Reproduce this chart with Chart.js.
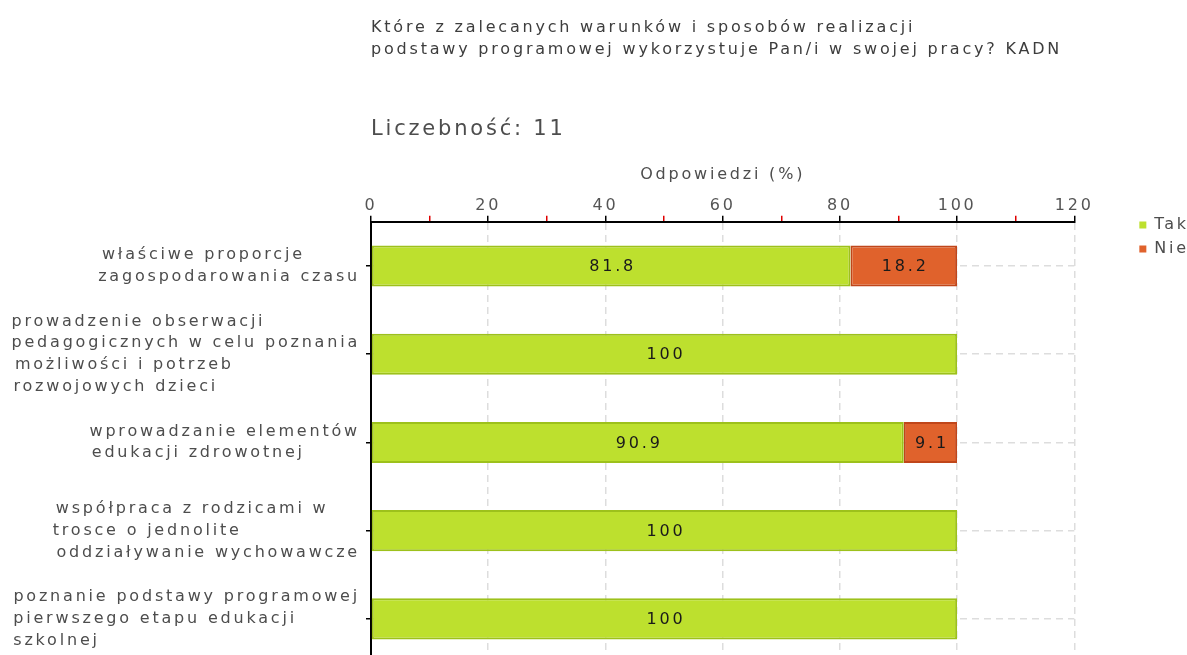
<!DOCTYPE html>
<html>
<head>
<meta charset="utf-8">
<script src="https://cdn.jsdelivr.net/npm/chart.js@4/dist/chart.umd.min.js"></script>
<style>
  body { margin: 0; background: #fff; overflow: hidden; }
</style>
</head>
<body>
<canvas id="chart" width="1187" height="664"></canvas>
<script>
const titleLines = [
  'Które z zalecanych warunków i sposobów realizacji',
  'podstawy programowej wykorzystuje Pan/i w swojej pracy? KADN'
];
const countText = 'Liczebność: 11';
const axisTitle = 'Odpowiedzi (%)';

const categories = [
  ['właściwe proporcje', 'zagospodarowania czasu'],
  ['prowadzenie obserwacji', 'pedagogicznych w celu poznania', 'możliwości i potrzeb', 'rozwojowych dzieci'],
  ['wprowadzanie elementów', 'edukacji zdrowotnej'],
  ['współpraca z rodzicami w', 'trosce o jednolite', 'oddziaływanie wychowawcze'],
  ['poznanie podstawy programowej', 'pierwszego etapu edukacji', 'szkolnej']
];
const seriesNames = ['Tak', 'Nie'];
const takValues = [81.8, 100, 90.9, 100, 100];
const nieValues = [18.2, 0, 9.1, 0, 0];
const xTicks = [0, 20, 40, 60, 80, 100, 120];

const FONT = "'DejaVu Sans', sans-serif";
const SPACING = '2.8px';

Chart.defaults.font.family = FONT;
Chart.defaults.font.size = 16;
Chart.defaults.color = '#4d4d4d';

// the original text is widely spaced, canvas letterSpacing gets close
const spacing = {
  id: 'spacing',
  beforeUpdate(chart) { chart.ctx.letterSpacing = SPACING; },
  beforeDraw(chart) { chart.ctx.letterSpacing = SPACING; }
};

// lines of a label are left aligned, the block sits against the axis
const measure = document.createElement('canvas').getContext('2d');
measure.font = '16px ' + FONT;
measure.letterSpacing = SPACING;
const padded = categories.map(lines => {
  const w = lines.map(l => measure.measureText(l).width);
  const max = Math.max(...w);
  const sp = measure.measureText(' ').width;
  return lines.map((l, i) => l + ' '.repeat(Math.round((max - w[i]) / sp)));
});

const valueLabels = {
  id: 'valueLabels',
  afterDatasetsDraw(chart) {
    const ctx = chart.ctx;
    ctx.save();
    ctx.font = '16px ' + FONT;
    ctx.fillStyle = '#1a1a1a';
    ctx.textAlign = 'center';
    ctx.textBaseline = 'middle';
    chart.data.datasets.forEach((ds, i) => {
      chart.getDatasetMeta(i).data.forEach((bar, j) => {
        const v = ds.data[j];
        if (!v) return;
        ctx.fillText(String(v), (bar.x + bar.base) / 2 + 1.5, bar.y + 1);
      });
    });
    ctx.restore();
  }
};

new Chart(document.getElementById('chart'), {
  type: 'bar',
  data: {
    labels: categories,
    datasets: [
      {
        label: seriesNames[0],
        data: takValues,
        backgroundColor: '#bde02e',
        borderColor: '#9dc11b',
        borderWidth: 2,
        borderSkipped: false
      },
      {
        label: seriesNames[1],
        data: nieValues,
        backgroundColor: '#e0622c',
        borderColor: '#c0461a',
        borderWidth: 2,
        borderSkipped: false
      }
    ]
  },
  options: {
    indexAxis: 'y',
    responsive: false,
    animation: false,
    categoryPercentage: 1,
    barPercentage: 0.465,
    layout: { padding: { left: 0, right: -12, top: 0, bottom: 1 } },
    scales: {
      y: {
        stacked: true,
        afterFit: s => {
          s.width = 371;
          // labels may hang over the plot ends, don't shrink it for them
          s.paddingTop = 0;
          s.paddingBottom = 0;
        },
        grid: { offset: false, color: '#dddddd', lineWidth: 1.5, tickColor: '#000', tickLength: 5 },
        border: { color: '#000', width: 2, dash: [7, 5] },
        ticks: {
          autoSkip: false,
          padding: 6,
          color: '#4d4d4d',
          font: { size: 16, lineHeight: 1.36 },
          callback: (v, i) => padded[i]
        }
      },
      // empty axis, only keeps the gap between the plot and the legend
      y2: {
        type: 'category',
        position: 'right',
        afterFit: s => { s.width = 57; },
        grid: { display: false },
        border: { display: false },
        ticks: { display: false }
      },
      x: {
        position: 'top',
        stacked: true,
        min: 0,
        max: 120,
        grid: {
          color: c => (c.tick && c.tick.value % 20 === 0) ? '#dddddd' : 'rgba(0,0,0,0)',
          lineWidth: 1.5,
          tickColor: c => (c.tick && c.tick.value % 20 === 0) ? '#000' : '#e00000',
          tickLength: 6,
          tickWidth: 1.5
        },
        border: { color: '#000', width: 2, dash: [7, 5] },
        ticks: {
          stepSize: 10,
          autoSkip: false,
          maxRotation: 0,
          padding: 1,
          color: '#555',
          font: { size: 16, lineHeight: 1.15 },
          callback: v => xTicks.includes(v) ? String(v) : ''
        },
        title: {
          display: true,
          text: axisTitle,
          color: '#4d4d4d',
          font: { size: 16, lineHeight: 1.15 },
          padding: { top: 0, bottom: 11 }
        }
      }
    },
    plugins: {
      title: {
        display: true,
        text: titleLines,
        align: 'start',
        fullSize: false,
        color: '#3d3d3d',
        font: { size: 16, weight: 'normal', lineHeight: 22 / 16 },
        padding: { top: 17, bottom: 57 }
      },
      subtitle: {
        display: true,
        text: countText,
        align: 'start',
        fullSize: false,
        color: '#4d4d4d',
        font: { size: 21, weight: 'normal', lineHeight: 24 / 21 },
        padding: { top: 0, bottom: 24 }
      },
      legend: {
        position: 'right',
        align: 'start',
        title: { display: true, text: '', font: { size: 10 }, padding: { top: 0, bottom: 197 } },
        labels: {
          boxWidth: 7,
          boxHeight: 7,
          padding: 8,
          color: '#4d4d4d',
          font: { size: 16 },
          generateLabels: chart => Chart.defaults.plugins.legend.labels.generateLabels(chart)
            .map(l => Object.assign(l, { lineWidth: 0 }))
        }
      },
      tooltip: { enabled: false }
    }
  },
  plugins: [spacing, valueLabels]
});
</script>
</body>
</html>
